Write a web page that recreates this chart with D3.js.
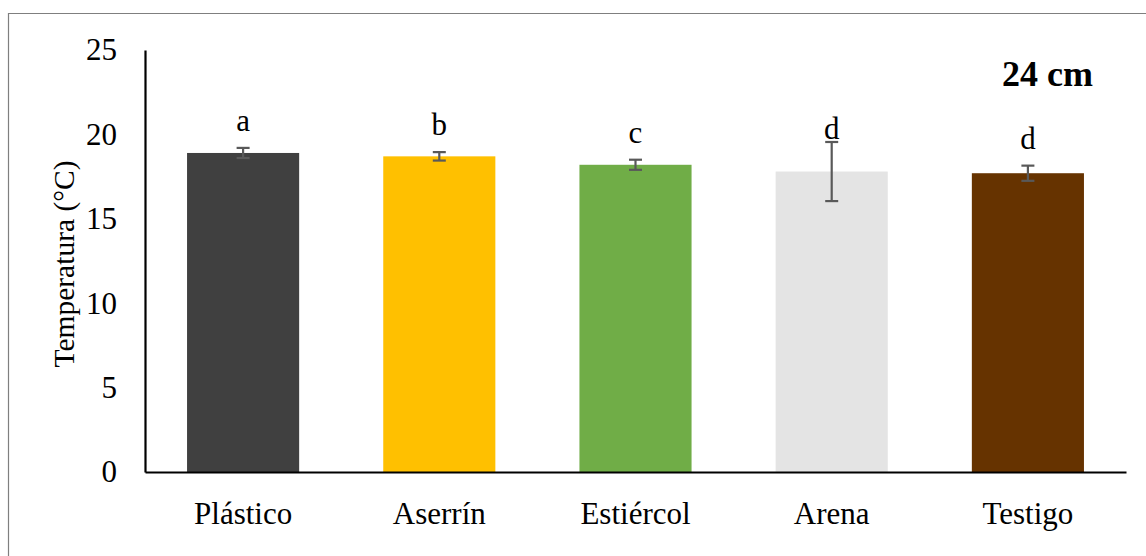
<!DOCTYPE html>
<html>
<head>
<meta charset="utf-8">
<script src="https://cdn.jsdelivr.net/npm/d3@7"></script>
<style>
  html, body { margin: 0; padding: 0; background: #fff; }
  svg { display: block; }
  text { font-family: "Liberation Serif", "Times New Roman", serif; fill: #000; }
</style>
</head>
<body>
<svg id="chart" width="1146" height="556"></svg>
<script>
// Soil temperature at 24 cm depth under different mulch treatments
const categories = ["Plástico", "Aserrín", "Estiércol", "Arena", "Testigo"];
const meanTemp   = [18.9, 18.7, 18.2, 17.8, 17.7];
const errTemp    = [0.3, 0.25, 0.3, 1.75, 0.45];
const letters    = ["a", "b", "c", "d", "d"];
const barColors  = ["#404040", "#ffc000", "#70ad47", "#e4e4e4", "#663300"];
const yTicks     = [0, 5, 10, 15, 20, 25];
const panelLabel = "24 cm";
const yTitle     = "Temperatura (°C)";

const svg = d3.select("#chart");

const plot = { left: 145, right: 1126, top: 50, bottom: 472 };

const x = d3.scaleBand()
  .domain(categories)
  .range([plot.left, plot.right])
  .paddingInner(0.4286)
  .paddingOuter(0.2143);

const y = d3.scaleLinear()
  .domain([0, 25])
  .range([plot.bottom, plot.top]);

// chart frame
svg.append("path")
  .attr("d", `M8.5,560 V13.5 H1150`)
  .attr("fill", "none")
  .attr("stroke", "#7f7f7f")
  .attr("stroke-width", 1.2);

const rows = categories.map((c, i) => ({
  cat: c, v: meanTemp[i], e: errTemp[i], letter: letters[i], color: barColors[i]
}));

// bars
svg.append("g").selectAll("rect")
  .data(rows)
  .join("rect")
  .attr("x", d => x(d.cat))
  .attr("width", x.bandwidth())
  .attr("y", d => y(d.v))
  .attr("height", d => y(0) - y(d.v))
  .attr("fill", d => d.color);

// error bars
const eb = svg.append("g")
  .attr("stroke", "#595959")
  .attr("stroke-width", 2.2)
  .attr("fill", "none");
rows.forEach(d => {
  const cx = x(d.cat) + x.bandwidth() / 2;
  const capW = 6.5;
  eb.append("line").attr("x1", cx).attr("x2", cx).attr("y1", y(d.v + d.e)).attr("y2", y(d.v - d.e));
  eb.append("line").attr("x1", cx - capW).attr("x2", cx + capW).attr("y1", y(d.v + d.e)).attr("y2", y(d.v + d.e));
  eb.append("line").attr("x1", cx - capW).attr("x2", cx + capW).attr("y1", y(d.v - d.e)).attr("y2", y(d.v - d.e));
});

// significance letters
svg.append("g").selectAll("text")
  .data(rows)
  .join("text")
  .attr("x", d => x(d.cat) + x.bandwidth() / 2)
  .attr("y", d => y(d.v + Math.min(d.e, 0.9)) - 17)
  .attr("text-anchor", "middle")
  .attr("font-size", 31)
  .text(d => d.letter);

// y axis
const yAxis = d3.axisLeft(y).tickValues(yTicks).tickSize(0).tickPadding(28);
const gy = svg.append("g")
  .attr("transform", `translate(${plot.left},0)`)
  .call(yAxis);
gy.select(".domain").attr("stroke", "#000").attr("stroke-width", 2.2);
gy.selectAll(".tick text")
  .attr("font-family", "Liberation Serif, serif")
  .attr("font-size", 31)
  .attr("fill", "#000");

// x axis
const xAxis = d3.axisBottom(x).tickSize(0).tickPadding(30);
const gx = svg.append("g")
  .attr("transform", `translate(0,${plot.bottom})`)
  .call(xAxis);
gx.select(".domain").attr("stroke", "#000").attr("stroke-width", 2.2);
gx.selectAll(".tick text")
  .attr("font-family", "Liberation Serif, serif")
  .attr("font-size", 31)
  .attr("fill", "#000")
  .attr("dy", "0.71em");

// y axis title
svg.append("text")
  .attr("transform", `translate(74,264) rotate(-90)`)
  .attr("text-anchor", "middle")
  .attr("font-size", 29.5)
  .text(yTitle);

// panel label
svg.append("text")
  .attr("x", 1093)
  .attr("y", 86)
  .attr("text-anchor", "end")
  .attr("font-size", 36)
  .attr("font-weight", "bold")
  .text(panelLabel);
</script>
</body>
</html>
